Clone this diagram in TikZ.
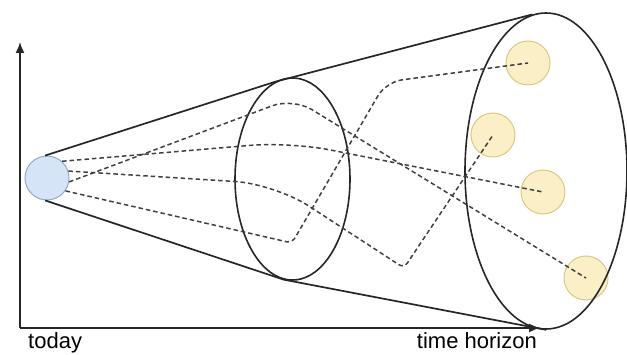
\documentclass[tikz,border=0pt]{standalone}
\usepackage{fontspec}
\setmainfont{Liberation Sans}
\usetikzlibrary{shapes.geometric,arrows.meta}
\definecolor{nowfill}{HTML}{D5E4F6}
\definecolor{nowline}{HTML}{94ABC8}
\definecolor{futfill}{HTML}{FBEFC7}
\definecolor{futline}{HTML}{DCC786}
\begin{document}
\begin{tikzpicture}[x=1pt, y=-1pt, every node/.style={font=\fontsize{22}{26}\selectfont},
	nowdot/.style={circle, minimum size=44pt, inner sep=0pt, fill=nowfill, draw=nowline, line width=1pt},
	futdot/.style={circle, minimum size=44pt, inner sep=0pt, fill=futfill, draw=futline, line width=1pt},
	slice/.style={ellipse, inner sep=0pt, draw=black!85, line width=1.6pt},
	coneline/.style={draw=black!85, line width=1.7pt},
	scenario/.style={draw=black!75, line width=1.5pt, dash pattern=on 4.5pt off 3pt}]
	\useasboundingbox (0,0) rectangle (627,355);
	% axes
	\coordinate (o) at (20,328);
	\coordinate (yend) at (20,42);
	\coordinate (xend) at (540,328);
	\draw[line width=1.6pt, draw=black!85, -{Latex[length=11pt,width=9pt]}] (o) -- (yend);
	\draw[line width=1.6pt, draw=black!85, -{Latex[length=11pt,width=9pt]}] (o) -- (xend);
	\node[anchor=base west, inner sep=0pt] (today) at (28,348.5) {today};
	\node[anchor=base east, inner sep=0pt] (horizon label) at (537,348.5) {time horizon};
	% start and end states
	\node[nowdot] (now) at (47,178) {};
	\node[futdot] (f1) at (528,63) {};
	\node[futdot] (f2) at (493,135) {};
	\node[futdot] (f3) at (543,192) {};
	\node[futdot] (f4) at (586,278) {};
	% cone
	\node[slice, minimum width=115pt, minimum height=202pt] (mid) at (292.5,179) {};
	\node[slice, minimum width=162pt, minimum height=316pt] (end) at (546,171) {};
	\draw[coneline] (now.95) -- (mid.100) -- (end.95);
	\draw[coneline] (now.-95) -- (mid.-95) -- (end.-90);
	% scenarios
	\draw[scenario, rounded corners=40pt] (now.48) -- (290,142) -- (f3.center);
	\draw[scenario] (now.18) [rounded corners=40pt] -- (275,184) [rounded corners=6pt] -- (404,268) -- (f2.center);
	\draw[scenario, rounded corners=22pt] (now.-10) -- (293,98) -- (f4.center);
	\draw[scenario] (now.-35) [rounded corners=5pt] -- (292,243) [rounded corners=16pt] -- (386,82) -- (f1.center);
\end{tikzpicture}
\end{document}
